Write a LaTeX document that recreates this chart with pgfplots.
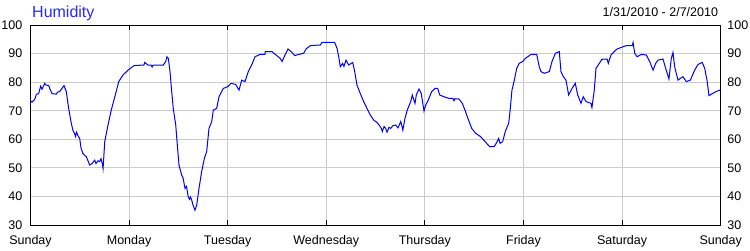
\documentclass[border=0pt]{standalone}
\usepackage{pgfplots}
\usepackage{pgfplotstable}
\pgfplotsset{compat=1.18}
\usepackage{fontspec}
\setmainfont{Liberation Sans}
\definecolor{gridc}{RGB}{204,204,204}
\definecolor{humc}{RGB}{0,0,255}
\definecolor{ttlc}{RGB}{40,40,255}

\pgfplotstableread{
d v
0.000 73.5
0.015 73.0
0.043 74.0
0.059 75.7
0.083 76.0
0.103 78.6
0.117 77.5
0.144 79.6
0.157 79.0
0.185 78.8
0.198 77.5
0.218 76.0
0.262 75.8
0.274 76.5
0.296 76.7
0.340 78.8
0.363 76.7
0.387 70.8
0.414 65.6
0.431 63.0
0.448 62.0
0.456 61.0
0.467 62.5
0.482 61.2
0.499 60.3
0.512 57.0
0.532 55.0
0.566 53.9
0.583 52.5
0.600 51.0
0.624 51.5
0.651 52.7
0.664 51.5
0.685 52.5
0.702 52.2
0.715 53.2
0.730 51.2
0.736 49.8
0.753 59.2
0.786 65.0
0.819 70.2
0.860 75.5
0.895 80.2
0.938 82.5
0.989 84.2
1.050 85.8
1.151 86.0
1.158 86.9
1.192 86.0
1.223 86.0
1.233 85.3
1.243 86.0
1.347 86.0
1.371 87.2
1.384 88.9
1.398 88.3
1.415 83.7
1.432 76.7
1.448 70.8
1.473 65.0
1.489 58.0
1.506 51.0
1.533 47.5
1.547 46.5
1.567 42.8
1.582 43.5
1.600 39.9
1.613 39.0
1.623 39.8
1.635 38.7
1.648 37.0
1.668 35.2
1.686 37.0
1.709 42.8
1.736 48.7
1.763 53.3
1.787 55.7
1.810 63.8
1.838 66.2
1.854 70.2
1.888 70.8
1.912 74.9
1.955 77.8
2.000 78.4
2.033 79.6
2.081 79.2
2.115 77.2
2.142 80.7
2.175 80.2
2.209 83.7
2.243 86.0
2.277 88.9
2.328 89.7
2.378 89.7
2.381 90.7
2.449 90.7
2.483 89.7
2.533 88.3
2.551 87.2
2.584 89.7
2.612 91.6
2.652 90.4
2.680 89.3
2.720 89.7
2.771 90.1
2.794 91.6
2.838 92.8
2.939 93.0
2.956 93.9
3.085 93.9
3.109 91.8
3.126 88.9
3.142 85.4
3.166 86.6
3.179 85.5
3.200 87.7
3.227 86.0
3.268 86.9
3.288 83.7
3.311 79.0
3.345 76.0
3.379 73.2
3.413 70.8
3.446 68.5
3.481 66.7
3.514 65.9
3.535 65.0
3.558 63.8
3.568 62.7
3.586 64.5
3.602 63.8
3.616 62.5
3.636 64.2
3.653 63.8
3.677 64.8
3.704 65.0
3.727 64.0
3.755 66.2
3.768 64.5
3.776 63.2
3.798 67.3
3.821 70.2
3.856 73.2
3.872 75.5
3.900 72.6
3.913 75.5
3.940 77.6
3.963 76.0
3.991 69.9
4.008 72.0
4.034 73.7
4.069 76.7
4.102 77.8
4.130 77.8
4.150 75.5
4.194 74.9
4.244 74.3
4.285 74.3
4.295 73.5
4.305 74.2
4.346 74.1
4.379 72.6
4.407 70.2
4.430 67.9
4.475 63.8
4.515 62.1
4.566 60.9
4.610 59.2
4.657 57.4
4.701 57.4
4.724 58.6
4.748 60.3
4.762 58.6
4.789 59.2
4.815 62.7
4.850 65.6
4.863 69.7
4.883 77.2
4.907 80.7
4.931 84.8
4.957 86.6
4.992 87.2
5.018 88.3
5.043 88.9
5.076 89.7
5.134 89.7
5.160 85.4
5.177 83.7
5.211 83.1
5.262 83.7
5.289 87.2
5.323 90.1
5.363 90.7
5.380 83.7
5.404 81.9
5.431 80.7
5.458 75.5
5.492 77.8
5.525 79.6
5.550 75.5
5.583 72.6
5.606 74.9
5.634 73.2
5.684 72.6
5.694 71.1
5.718 77.2
5.735 84.8
5.769 86.6
5.796 88.0
5.847 88.1
5.860 86.6
5.887 89.5
5.921 90.7
5.948 91.6
6.043 92.8
6.103 92.8
6.111 93.9
6.128 90.1
6.152 88.9
6.195 89.7
6.246 89.5
6.280 87.2
6.314 84.2
6.341 86.6
6.364 87.7
6.415 88.1
6.442 84.8
6.475 81.1
6.499 88.3
6.516 90.4
6.533 85.4
6.567 80.7
6.590 81.3
6.617 81.9
6.651 80.2
6.692 80.7
6.736 84.2
6.770 86.2
6.813 86.9
6.838 84.8
6.861 80.7
6.881 75.3
6.921 76.1
6.953 76.7
6.990 77.2
7.000 77.2
}\humtable

\begin{document}
\begin{tikzpicture}
\begin{axis}[
  at={(0pt,0pt)}, anchor=south west,
  scale only axis, width=690.2pt, height=200pt,
  xmin=0, xmax=7, ymin=30, ymax=100,
  clip mode=individual,
  xtick={0,1,2,3,4,5,6,7},
  xticklabels={Sunday,Monday,Tuesday,Wednesday,Thursday,Friday,Saturday,Sunday},
  ytick={30,40,50,60,70,80,90,100},
  /pgf/number format/assume math mode=true,
  grid=major,
  major grid style={gridc, line width=1pt},
  axis line style={black, line width=1pt},
  tick align=inside,
  xtick pos=both,
  major tick length=5pt,
  xtick style={black, line width=1pt},
  ytick style={draw=none},
  ytick pos=left,
  yticklabel pos=left,
  tick label style={font=\fontsize{12.5}{15}\selectfont, text=black},
  xticklabel style={anchor=base, inner sep=0pt, yshift=-19pt},
  yticklabel style={anchor=east, inner sep=0pt, xshift=-8pt},
]
\addplot[humc, line width=1pt] table[x=d, y=v] {\humtable};
\end{axis}
\begin{axis}[
  at={(0pt,0pt)}, anchor=south west,
  scale only axis, width=690.2pt, height=200pt,
  xmin=0, xmax=7, ymin=30, ymax=100,
  clip=false,
  axis x line=none,
  axis y line*=right,
  axis line style={black, line width=1pt, -},
  ytick={30,40,50,60,70,80,90,100},
  /pgf/number format/assume math mode=true,
  ytick style={draw=none},
  tick label style={font=\fontsize{12.5}{15}\selectfont, text=black},
  yticklabel style={anchor=west, inner sep=0pt, xshift=6.5pt},
]
\addplot[draw=none] coordinates {(0,50)};
\node[anchor=base west, inner sep=0pt, text=ttlc, font=\fontsize{16}{18}\selectfont]
  at (rel axis cs:0,1) [xshift=1.5pt, yshift=7.7pt] {Humidity};
\node[anchor=base east, inner sep=0pt, text=black, font=\fontsize{12.5}{15}\selectfont]
  at (rel axis cs:1,1) [xshift=-2.5pt, yshift=8.3pt] {1/31/2010 - 2/7/2010};
\end{axis}
\pgfresetboundingbox
\path (-30.5pt,-25pt) rectangle (719.5pt,225pt);
\end{tikzpicture}
\end{document}
